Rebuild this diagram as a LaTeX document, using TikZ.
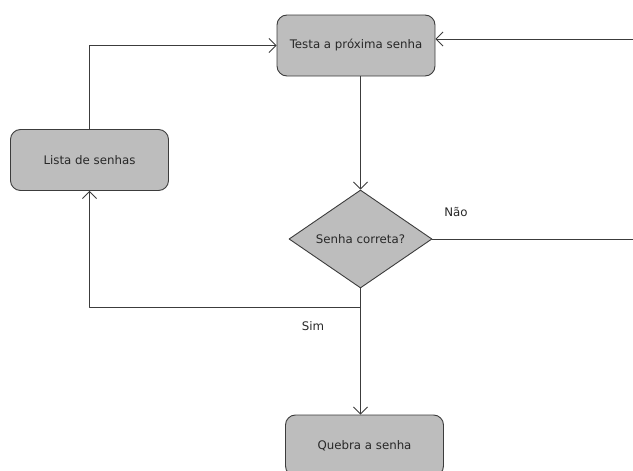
\documentclass[tikz,border=0pt]{standalone}
\usepackage{fontspec}
\setmainfont{DejaVu Sans}
\usetikzlibrary{shapes.geometric,arrows.meta}
\definecolor{caixa}{RGB}{189,189,189}
\definecolor{borda}{RGB}{60,60,60}
\definecolor{letra}{RGB}{40,40,40}
\tikzset{
  etapa/.style={draw=borda, fill=caixa, rounded corners=10pt, line width=0.9pt,
    minimum width=158pt, minimum height=61pt, inner sep=0pt, text=letra},
  decisao/.style={diamond, draw=borda, fill=caixa, line width=0.9pt,
    minimum width=143pt, minimum height=98pt, inner sep=0pt, aspect=1.46, text=letra},
  fluxo/.style={draw=borda, line width=0.8pt}
}
\begin{document}
\begin{tikzpicture}[x=1pt, y=-1pt, font=\fontsize{11.8}{14}\selectfont, line join=round,
  >={Straight Barb[length=7pt,width=14pt]}]
  \useasboundingbox (0,0) rectangle (633,471);
  % caixas
  \node[etapa] (testa) at (356,45.5) {Testa a próxima senha};
  \node[etapa] (lista) at (89.5,160) {Lista de senhas};
  \node[decisao] (correta) at (360.5,239) {Senha correta?};
  \node[etapa] (quebra) at (364.5,445.5) {Quebra a senha};

  % pontas livres
  \coordinate (entrada) at (633,39);
  \coordinate (saida) at (633,239);
  \coordinate (juncao) at (360.5,307);

  % ligacoes
  \draw[fluxo,->] (entrada) -- (entrada -| testa.east);
  \draw[fluxo,->] (lista.north) |- (testa.west);
  \draw[fluxo,->] (correta.north |- testa.south) -- (correta.north);
  \draw[fluxo] (correta.east) -- (saida);
  \draw[fluxo,->] (correta.south) -- (juncao) -| (lista.south);
  \draw[fluxo,->] (juncao) -- (juncao |- quebra.north);

  % rotulos
  \node[text=letra] (nao) at (456,212) {Não};
  \node[text=letra] (sim) at (313,326) {Sim};
\end{tikzpicture}
\end{document}
